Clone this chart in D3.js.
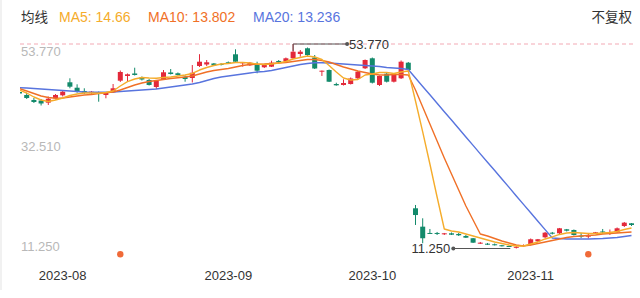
<!DOCTYPE html>
<html><head><meta charset="utf-8">
<script src="https://cdn.jsdelivr.net/npm/d3@7"></script>
<style>
html,body{margin:0;padding:0;background:#fff;}
svg{display:block;font-family:"Helvetica Neue",Arial,"Liberation Sans","Noto Sans CJK SC",sans-serif;}
</style></head>
<body><svg id="c" width="640" height="298"></svg>
<script>
// ---- data ----
const openP = [43.79,43.17,42.13,42.02,41.57,42.48,43.10,45.81,44.68,44.00,43.52,43.73,43.17,43.73,46.14,47.12,47.64,46.85,46.29,44.83,46.49,47.85,47.68,46.97,46.70,49.20,49.51,49.72,49.61,49.97,51.63,49.76,49.34,49.40,48.93,49.05,50.24,50.17,50.80,51.69,52.88,50.96,48.01,48.36,45.45,45.25,45.45,46.64,48.72,50.80,45.25,47.59,45.93,46.64,49.88,19.61,15.79,14.48,14.48,14.23,14.41,14.27,13.85,13.38,12.25,12.25,12.13,11.92,11.77,11.39,11.77,11.98,12.75,13.58,14.54,14.41,15.24,15.10,13.92,13.79,14.41,14.79,14.56,14.62,15.93,16.49];
const closeP = [43.48,42.54,41.71,41.40,42.40,43.17,43.85,44.89,43.85,43.65,43.85,43.37,43.65,44.56,47.95,47.47,47.33,46.39,45.25,46.14,47.89,47.53,47.33,46.49,47.80,50.09,49.97,49.34,49.45,49.78,50.09,49.97,49.88,48.22,49.40,49.88,49.97,50.80,52.17,52.17,51.48,48.68,48.22,45.93,45.18,45.66,46.60,48.01,50.44,45.72,47.12,45.93,47.39,50.09,48.36,18.21,13.38,14.33,14.33,14.41,14.12,14.00,13.50,12.46,12.46,12.13,11.98,11.77,11.63,11.60,11.98,13.17,13.17,14.54,14.33,15.45,14.95,14.06,13.79,13.92,14.62,14.69,14.69,15.45,16.62,16.14];
const highP = [44.00,43.58,42.54,42.34,42.86,43.37,44.10,46.64,45.39,44.56,44.00,43.89,43.79,45.45,48.26,47.64,48.84,47.01,46.49,46.29,48.36,48.57,47.85,47.22,49.40,51.65,50.44,49.82,49.82,50.13,52.67,50.03,50.03,50.09,49.61,50.30,50.44,50.96,53.77,52.52,53.04,51.48,48.26,48.47,45.72,46.43,46.81,48.16,50.55,50.96,47.22,47.74,47.53,50.34,50.03,20.30,17.53,15.31,14.69,14.48,14.58,14.48,14.06,13.44,12.61,12.40,12.29,11.98,11.88,11.77,12.09,13.33,13.23,14.69,14.69,15.52,15.31,15.20,14.48,14.48,14.69,15.31,15.20,15.62,16.76,16.55];
const lowP = [43.17,42.34,41.50,40.98,41.09,42.23,42.86,44.56,43.65,43.37,43.31,41.77,42.48,43.58,45.87,45.93,47.22,46.18,45.14,44.41,46.29,47.43,47.22,45.93,45.77,48.99,49.20,49.20,49.30,49.61,49.82,49.05,49.20,47.68,48.78,48.99,49.72,50.03,50.65,51.13,51.28,48.57,47.12,45.87,45.10,45.14,45.35,46.49,48.57,45.56,45.04,45.77,45.77,46.49,48.26,16.14,12.34,14.27,14.06,14.06,14.06,13.85,13.44,12.40,12.19,11.98,11.88,11.67,11.56,11.25,11.67,11.88,12.61,13.44,14.17,14.27,14.79,13.95,13.44,13.33,14.27,14.27,14.06,14.48,15.72,15.93];

const ma5 = [44.21,43.58,42.75,42.13,41.81,42.13,42.54,43.06,43.37,43.58,43.58,43.52,43.69,44.00,45.04,45.93,46.49,46.81,46.70,46.64,46.81,46.91,47.12,47.33,47.64,48.36,48.89,49.30,49.61,49.72,49.92,49.92,49.82,49.61,49.51,49.61,49.82,50.13,50.65,50.96,51.28,51.07,50.55,49.30,47.95,46.70,46.29,46.39,47.33,47.53,47.85,47.85,47.64,47.95,48.16,41.92,35.48,28.82,21.96,15.31,14.89,14.69,14.27,13.85,13.44,13.02,12.61,12.29,11.98,11.77,11.77,12.19,12.61,13.23,13.65,14.17,14.48,14.58,14.48,14.38,14.38,14.48,14.58,14.79,15.20,15.52];
const ma10 = [44.52,44.00,43.48,42.96,42.65,42.48,42.54,42.75,42.96,43.17,43.27,43.48,43.63,43.79,44.21,44.73,45.25,45.66,45.97,46.18,46.39,46.60,46.74,46.91,47.12,47.53,47.95,48.26,48.47,48.68,48.99,49.30,49.51,49.55,49.61,49.72,49.82,49.92,50.13,50.34,50.55,50.55,50.34,50.03,49.51,48.99,48.57,48.16,47.85,47.53,47.33,47.33,47.43,47.43,47.33,44.21,40.67,37.14,33.60,30.07,26.74,23.42,20.09,17.18,14.27,13.85,13.33,12.81,12.40,11.98,11.77,11.98,12.29,12.61,12.92,13.23,13.54,13.75,13.85,13.96,14.06,14.27,14.38,14.48,14.58,14.69];
const ma20 = [44.69,44.62,44.52,44.41,44.31,44.21,44.10,44.00,43.89,43.79,43.73,43.73,43.73,43.79,43.89,44.00,44.10,44.21,44.31,44.41,44.62,44.83,45.04,45.25,45.45,45.77,46.18,46.60,46.91,47.12,47.33,47.53,47.74,47.95,48.05,48.26,48.57,48.89,49.20,49.51,49.72,49.86,49.86,49.82,49.72,49.61,49.51,49.40,49.30,49.20,49.09,48.89,48.78,48.68,48.47,46.70,44.95,43.22,41.44,39.70,37.98,36.21,34.43,32.70,30.93,29.19,27.46,25.71,23.95,22.16,20.42,18.69,16.92,15.18,13.44,13.33,13.23,13.23,13.23,13.23,13.27,13.33,13.44,13.54,13.75,13.96];

const yTicks = [53.77, 32.51, 11.25];
const xTickIndex = [6, 29, 49, 71];
const xTickLabels = ["2023-08", "2023-09", "2023-10", "2023-11"];
const markerIndex = [14, 79];
const legendItems = [
  {label: "MA5: 14.66", key: "ma5"},
  {label: "MA10: 13.802", key: "ma10"},
  {label: "MA20: 13.236", key: "ma20"}
];
const maxValue = 53.77, minValue = 11.25;

// ---- drawing ----
const colors = {ma5: "#f5ac2b", ma10: "#f07027", ma20: "#5874de", up: "#e3293a", down: "#138a6b"};
const N = openP.length;
const svg = d3.select("#c");
const x = d3.scaleLinear().domain([0, N - 1]).range([19.5, 631.5]);
const y = d3.scaleLinear().domain([11.25, 53.77]).range([248.5, 44]);

// faint card edge
svg.append("line").attr("x1", 1).attr("x2", 1).attr("y1", 0).attr("y2", 290).attr("stroke", "#f1f1f1").attr("stroke-width", 2);

// legend
const lg = svg.append("g").attr("font-size", 14);
lg.append("text").attr("x", 21).attr("y", 21.5).attr("fill", "#333").attr("font-family", "'Noto Sans CJK SC',sans-serif").attr("font-size", 13.5).text("均线");
const lx = [59, 148, 253];
legendItems.forEach((d, i) => {
  lg.append("text").attr("x", lx[i]).attr("y", 21.5).attr("fill", colors[d.key]).text(d.label);
});
lg.append("text").attr("x", 632).attr("y", 21.5).attr("text-anchor", "end").attr("fill", "#333")
  .attr("font-family", "'Noto Sans CJK SC',sans-serif").attr("font-size", 13.5).text("不复权");

// max dashed line
svg.append("line").attr("x1", 20).attr("x2", 633).attr("y1", y(maxValue)).attr("y2", y(maxValue))
  .attr("stroke", "#f3a9b4").attr("stroke-width", 1).attr("stroke-dasharray", "4,3");

// y labels
const fmt = d3.format(".3f");
svg.append("g").selectAll("text").data(yTicks).join("text")
  .attr("x", 21).attr("y", (d, i) => y(d) + [12, 5, 2][i])
  .attr("fill", "#b8b8b8").attr("font-size", 13).text(d => fmt(d));

// x labels
svg.append("g").selectAll("text").data(xTickIndex).join("text")
  .attr("x", d => x(d)).attr("y", 280).attr("text-anchor", "middle")
  .attr("fill", "#333").attr("font-size", 13).text((d, i) => xTickLabels[i]);

// plot area
svg.append("clipPath").attr("id", "clip").append("rect").attr("x", 20).attr("y", 30).attr("width", 616).attr("height", 230);
const plot = svg.append("g").attr("clip-path", "url(#clip)");

const idx = d3.range(N);
const cg = plot.append("g");
const col = i => closeP[i] >= openP[i] ? colors.up : colors.down;
cg.selectAll("line.w").data(idx).join("line").attr("class", "w")
  .attr("x1", i => x(i)).attr("x2", i => x(i))
  .attr("y1", i => y(highP[i])).attr("y2", i => y(lowP[i]))
  .attr("stroke", col).attr("stroke-width", 1);
cg.selectAll("rect").data(idx).join("rect")
  .attr("x", i => x(i) - 2.5).attr("width", 5)
  .attr("y", i => y(Math.max(openP[i], closeP[i])))
  .attr("height", i => Math.max(1, Math.abs(y(openP[i]) - y(closeP[i]))))
  .attr("fill", col);

const line = arr => d3.line().x((d, i) => x(i)).y(d => y(d))(arr);
[["ma20", ma20], ["ma10", ma10], ["ma5", ma5]].forEach(([k, arr]) => {
  plot.append("path").attr("d", line(arr)).attr("fill", "none")
    .attr("stroke", colors[k]).attr("stroke-width", 1.4).attr("stroke-linejoin", "round");
});

// max annotation
const iMax = highP.indexOf(maxValue);
const ax = x(iMax), ay = y(maxValue);
svg.append("path").attr("d", `M${ax},${ay + 7}V${ay}H${ax + 54}`).attr("fill", "none").attr("stroke", "#555").attr("stroke-width", 1);
svg.append("circle").attr("cx", ax + 54).attr("cy", ay).attr("r", 2).attr("fill", "#555");
svg.append("text").attr("x", ax + 56).attr("y", ay + 4.5).attr("fill", "#333").attr("font-size", 13).text(fmt(maxValue));

// min annotation
const iMin = lowP.indexOf(minValue);
const bx = x(iMin), by = y(minValue);
svg.append("line").attr("x1", bx - 6).attr("x2", bx - 63).attr("y1", by).attr("y2", by).attr("stroke", "#555");
svg.append("circle").attr("cx", bx - 63).attr("cy", by).attr("r", 2).attr("fill", "#555");
svg.append("text").attr("x", bx - 66).attr("y", by + 4.5).attr("text-anchor", "end").attr("fill", "#333").attr("font-size", 13).text(fmt(minValue));

// event markers
svg.append("g").selectAll("circle").data(markerIndex).join("circle")
  .attr("cx", i => x(i)).attr("cy", 254.3).attr("r", 3.2).attr("fill", "#f06a38");
</script></body></html>
